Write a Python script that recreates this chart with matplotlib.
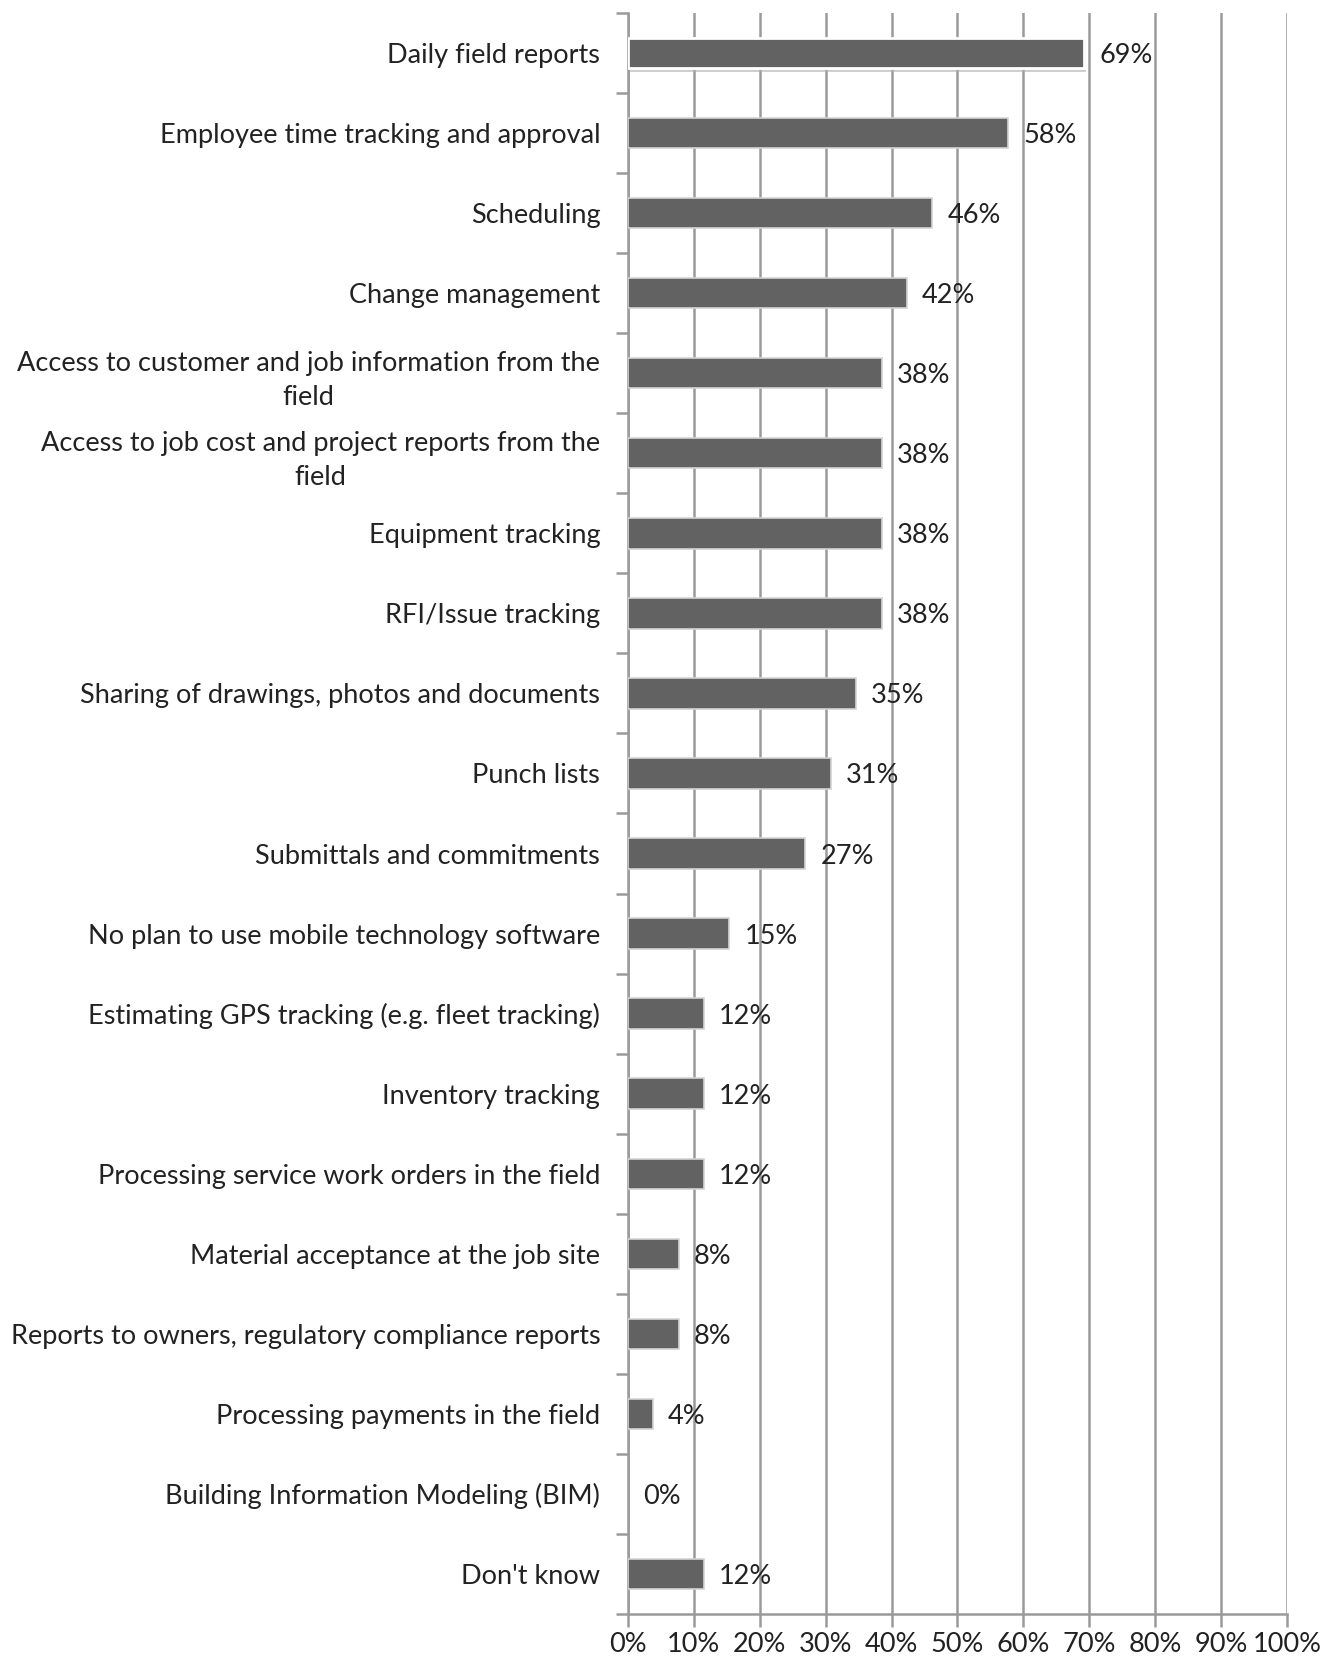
import matplotlib
matplotlib.use("Agg")
import matplotlib.pyplot as plt
import matplotlib.patheffects as pe
import numpy as np

categories = [
    "Daily field reports",
    "Employee time tracking and approval",
    "Scheduling",
    "Change management",
    "Access to customer and job information from the\nfield",
    "Access to job cost and project reports from the\nfield",
    "Equipment tracking",
    "RFI/Issue tracking",
    "Sharing of drawings, photos and documents",
    "Punch lists",
    "Submittals and commitments",
    "No plan to use mobile technology software",
    "Estimating GPS tracking (e.g. fleet tracking)",
    "Inventory tracking",
    "Processing service work orders in the field",
    "Material acceptance at the job site",
    "Reports to owners, regulatory compliance reports",
    "Processing payments in the field",
    "Building Information Modeling (BIM)",
    "Don't know",
]
values = [69.2, 57.7, 46.2, 42.3, 38.5, 38.5, 38.5, 38.5, 34.6, 30.8,
          26.9, 15.4, 11.5, 11.5, 11.5, 7.7, 7.7, 3.8, 0.0, 11.5]
xticks = list(range(0, 101, 10))
xtick_labels = [f"{t}%" for t in xticks]

plt.rcParams['font.family'] = ['Lato', 'DejaVu Sans']

fig = plt.figure(figsize=(13.37, 16.6), dpi=100)
ax = fig.add_axes([0.4697, 0.0277, 0.9626 - 0.4697, 0.9922 - 0.0277])

n = len(categories)
y = np.arange(n)
grid_c = "#9a9a9a"
txt_c = "#222222"
fs = 19.5

ax.set_xlim(0, 100)
ax.set_ylim(n - 0.5, -0.5)
ax.set_xticks(xticks)
ax.set_xticklabels(xtick_labels, fontsize=fs, color=txt_c)
ax.xaxis.grid(True, color=grid_c, linewidth=1.8)
ax.set_axisbelow(True)

bars = ax.barh(y, values, height=0.38, color="#626262", edgecolor="#d4d4d4",
               linewidth=1.2, zorder=3)
for b, v in zip(bars, values):
    if v == 0:
        b.set_linewidth(0)
# highlighted first bar (white border with soft shadow)
bars[0].set_edgecolor("white")
bars[0].set_linewidth(2.0)
bars[0].set_path_effects([pe.SimplePatchShadow(offset=(1.5, -2.5),
                                               shadow_rgbFace="#b0b0b0",
                                               alpha=0.6),
                          pe.Normal()])

for yi, v in zip(y, values):
    ax.text(v + 2.3, yi, f"{round(v):d}%", va='center_baseline', ha='left',
            fontsize=fs, color=txt_c, zorder=4)

ax.set_yticks(y)
ax.set_yticklabels(categories, fontsize=fs, color=txt_c,
                   multialignment='center', linespacing=1.45)
ax.set_yticks(np.arange(-0.5, n + 0.5, 1), minor=True)
ax.tick_params(axis='y', which='major', length=0, pad=20)
ax.tick_params(axis='y', which='minor', length=9, width=1.8, color=grid_c,
               direction='out')
ax.tick_params(axis='x', which='major', length=9, width=1.8, color=grid_c,
               direction='out', pad=4)

for s in ['top', 'right']:
    ax.spines[s].set_visible(False)
for s in ['left', 'bottom']:
    ax.spines[s].set_color(grid_c)
    ax.spines[s].set_linewidth(1.8)

fig.savefig("out.png", dpi=100)
